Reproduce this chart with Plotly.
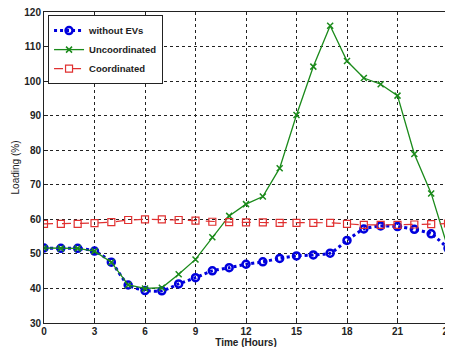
import plotly.graph_objects as go

hours = list(range(25))
without_evs = [51.7, 51.6, 51.6, 50.8, 47.6, 41.0, 39.4, 39.3, 41.3, 43.1, 45.1, 46.0, 47.0,
               47.7, 48.7, 49.4, 49.7, 50.2, 53.9, 57.2, 58.1, 57.9, 57.1, 55.8, 51.6]
uncoordinated = [51.7, 51.6, 51.6, 50.8, 47.6, 41.0, 40.0, 40.2, 44.1, 48.4, 54.8, 61.0, 64.4,
                 66.6, 74.8, 90.2, 104.2, 116.0, 105.8, 100.9, 99.1, 95.8, 78.9, 67.5, 51.6]
coordinated = [58.7, 58.7, 58.7, 58.9, 59.2, 59.8, 60.0, 60.0, 59.8, 59.6, 59.3, 59.2, 59.1,
               59.1, 59.0, 59.0, 59.0, 59.0, 58.7, 58.4, 58.4, 58.4, 58.5, 58.6, 58.8]
x_ticks = [0, 3, 6, 9, 12, 15, 18, 21, 24]
y_ticks = [30, 40, 50, 60, 70, 80, 90, 100, 110, 120]

font_fam = "Liberation Sans, Arial, sans-serif"

fig = go.Figure()
fig.add_trace(go.Scatter(
    x=hours, y=without_evs, name="<b>without EVs</b>", mode="lines+markers",
    line=dict(color="#0000dd", width=3, dash="dot", shape="spline", smoothing=0.6),
    marker=dict(symbol="circle-open", size=7, color="#0000dd", line=dict(width=2.5))))
fig.add_trace(go.Scatter(
    x=hours, y=uncoordinated, name="<b>Uncoordinated</b>", mode="lines+markers",
    line=dict(color="#1a8a1a", width=1.3),
    marker=dict(symbol="x-thin-open", size=6, color="#1a8a1a", line=dict(width=1.5, color="#1a8a1a"))))
fig.add_trace(go.Scatter(
    x=hours, y=coordinated, name="<b>Coordinated</b>", mode="lines+markers",
    line=dict(color="#e03030", width=1.2, dash="dash"),
    marker=dict(symbol="square-open", size=7, color="#e03030", line=dict(width=1.2))))

axis_common = dict(
    showgrid=True, gridcolor="#222", griddash="dot", gridwidth=1,
    showline=True, linecolor="#222", linewidth=1, mirror=True,
    ticks="inside", ticklen=4, tickcolor="#222",
    tickfont=dict(family=font_fam, size=10, color="#222"),
    zeroline=False, automargin=False, ticklabeloverflow="allow",
)

fig.update_xaxes(range=[0, 24], tickvals=x_ticks, ticktext=[f"<b>{v}</b>" for v in x_ticks],
                 ticklabelstandoff=-1,
                 title=dict(text="<b>Time (Hours)</b>", font=dict(family=font_fam, size=10, color="#222"), standoff=0),
                 **axis_common)
fig.update_yaxes(range=[30, 120], tickvals=y_ticks, ticktext=[f"<b>{v}</b>" for v in y_ticks],
                 title=dict(text="Loading (%)", font=dict(family=font_fam, size=10, color="#222"), standoff=2),
                 **axis_common)

# page body has an 8px default margin; margins compensate for that offset
fig.update_layout(
    width=453, height=347,
    margin=dict(l=36, r=13, t=4, b=32, autoexpand=False),
    plot_bgcolor="white", paper_bgcolor="white",
    showlegend=True,
    legend=dict(x=0.01, y=0.99, xanchor="left", yanchor="top",
                bgcolor="white", bordercolor="#222", borderwidth=1,
                font=dict(family=font_fam, size=9.5, color="#222"),
                tracegroupgap=0, itemwidth=30),
)

fig.write_html("out.html")
